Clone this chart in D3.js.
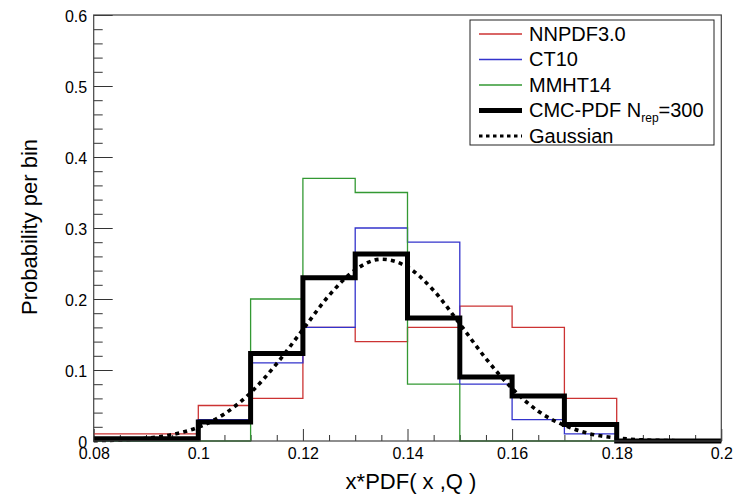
<!DOCTYPE html>
<html><head><meta charset="utf-8">
<script src="https://cdn.jsdelivr.net/npm/d3@7"></script>
<style>
html,body{margin:0;padding:0;background:#fff;}
text{font-family:"Liberation Sans",Arial,Helvetica,sans-serif;fill:#000;}
</style></head>
<body>
<svg id="chart" width="736" height="495"></svg>
<script>
// ---- data ----
const binStart = [0.08,0.09,0.10,0.11,0.12,0.13,0.14,0.15,0.16,0.17,0.18,0.19];
const binEnd = 0.20;
const nnpdf = [0.01,0.01,0.05,0.06,0.16,0.14,0.16,0.19,0.16,0.06,0,0];
const ct10  = [0,0,0.03,0.11,0.16,0.30,0.28,0.08,0.03,0.01,0,0];
const mmht  = [0,0,0,0.20,0.37,0.35,0.08,0,0,0,0,0];
const cmc   = [0.0033,0.0033,0.0267,0.1233,0.23,0.2633,0.1733,0.09,0.0633,0.0233,0,0];
const gaussX = [0.080,0.085,0.090,0.095,0.100,0.105,0.110,0.115,0.120,0.125,0.130,0.135,0.140,0.145,0.150,0.155,0.160,0.165,0.170,0.175,0.180,0.185,0.190,0.195,0.200];
const gaussY = [0.0005,0.0014,0.0037,0.009,0.0194,0.0383,0.068,0.109,0.157,0.205,0.241,0.256,0.245,0.212,0.165,0.116,0.074,0.042,0.022,0.010,0.0043,0.0016,0.0006,0.0002,0.0000];
const xTicks = [0.08,0.10,0.12,0.14,0.16,0.18,0.20];
const xTickLabels = ["0.08","0.1","0.12","0.14","0.16","0.18","0.2"];
const yTicks = [0,0.1,0.2,0.3,0.4,0.5,0.6];
const yTickLabels = ["0","0.1","0.2","0.3","0.4","0.5","0.6"];
const xMinorStep = 0.005, yMinorStep = 0.02;
const seriesNames = ["NNPDF3.0","CT10","MMHT14"];
const seriesColors = ["#cc3333","#3333cc","#339933"];
const xTitle = "x*PDF( x ,Q )";
const yTitle = "Probability per bin";

// ---- layout ----
const L = 93.7, R = 721.3, T = 15, B = 441;
const svg = d3.select("#chart");
const x = d3.scaleLinear().domain([0.08,0.20]).range([L,R]);
const y = d3.scaleLinear().domain([0,0.6]).range([B,T]);

// minor ticks
const xMinor = d3.range(0.08, 0.2000001, xMinorStep).filter(v => !xTicks.some(t => Math.abs(t-v) < 1e-9));
const yMinor = d3.range(0, 0.6000001, yMinorStep).filter(v => !yTicks.some(t => Math.abs(t-v) < 1e-9));

const fontTick = 16;
const gx = svg.append("g").attr("transform", `translate(0,${B})`)
  .call(d3.axisBottom(x).tickValues(xTicks).tickFormat((d,i)=>xTickLabels[i]).tickSize(-12).tickPadding(6.6));
gx.select(".domain").remove();
gx.selectAll("text").style("font-size", fontTick+"px").attr("font-family", null);
gx.selectAll("line").attr("stroke","#333");
const gxm = svg.append("g").attr("transform", `translate(0,${B})`)
  .call(d3.axisBottom(x).tickValues(xMinor).tickFormat("").tickSize(-6));
gxm.select(".domain").remove();
gxm.selectAll("line").attr("stroke","#333");

const gy = svg.append("g").attr("transform", `translate(${L},0)`)
  .call(d3.axisLeft(y).tickValues(yTicks).tickFormat((d,i)=>yTickLabels[i]).tickSize(-19).tickPadding(6.5));
gy.select(".domain").remove();
gy.selectAll("text").style("font-size", fontTick+"px").attr("font-family", null).attr("dy","0.42em");
gy.selectAll("line").attr("stroke","#333");
const gym = svg.append("g").attr("transform", `translate(${L},0)`)
  .call(d3.axisLeft(y).tickValues(yMinor).tickFormat("").tickSize(-9));
gym.select(".domain").remove();
gym.selectAll("line").attr("stroke","#333");

// histograms
const stepLine = d3.line().x(d=>x(d[0])).y(d=>y(d[1])).curve(d3.curveStepAfter);
function pts(vals){ const p = binStart.map((b,i)=>[b, vals[i]]); p.push([binEnd, vals[vals.length-1]]); return p; }
[nnpdf, ct10, mmht].forEach((vals,i)=>{
  svg.append("path").attr("d", stepLine(pts(vals))).attr("fill","none")
    .attr("stroke", seriesColors[i]).attr("stroke-width",1.3);
});
svg.append("path").attr("d", stepLine(pts(cmc))).attr("fill","none")
  .attr("stroke","#000").attr("stroke-width",5).attr("stroke-linejoin","miter");

// gaussian
const gLine = d3.line().x((d,i)=>x(gaussX[i])).y(d=>y(d)).curve(d3.curveMonotoneX);
svg.append("path").attr("d", gLine(gaussY)).attr("fill","none")
  .attr("stroke","#000").attr("stroke-width",3.6).attr("stroke-dasharray","4 4.2");

// frame
svg.append("rect").attr("x",L).attr("y",T).attr("width",R-L).attr("height",B-T)
  .attr("fill","none").attr("stroke","#444").attr("stroke-width",1.2);

// axis titles
svg.append("text").attr("x",411).attr("y",489).attr("text-anchor","middle")
  .style("font-size","22px").text(xTitle);
svg.append("text").attr("transform","translate(37,227) rotate(-90)").attr("text-anchor","middle")
  .style("font-size","22px").text(yTitle);

// legend
const lg = svg.append("g");
lg.append("rect").attr("x",470).attr("y",20).attr("width",244).attr("height",125)
  .attr("fill","#fff").attr("stroke","#222").attr("stroke-width",1);
const base0 = 40.5, dyL = 25.5, lx0 = 479, lx1 = 522, tx = 529;
const entries = [
  {stroke:seriesColors[0], w:1.3, dash:null},
  {stroke:seriesColors[1], w:1.3, dash:null},
  {stroke:seriesColors[2], w:1.3, dash:null},
  {stroke:"#000", w:5, dash:null},
  {stroke:"#000", w:3.2, dash:"3.5 3.5"}
];
entries.forEach((e,i)=>{
  const by = base0 + i*dyL;
  lg.append("line").attr("x1",lx0).attr("x2",lx1).attr("y1",by-6.5).attr("y2",by-6.5)
    .attr("stroke",e.stroke).attr("stroke-width",e.w).attr("stroke-dasharray",e.dash);
});
seriesNames.forEach((n,i)=>{
  lg.append("text").attr("x",tx).attr("y",base0+i*dyL).style("font-size","20px").text(n);
});
const t4 = lg.append("text").attr("x",tx).attr("y",base0+3*dyL).style("font-size","20px");
t4.append("tspan").text("CMC-PDF N");
t4.append("tspan").attr("dy",5).style("font-size","12px").text("rep");
t4.append("tspan").attr("dy",-5).text("=300");
lg.append("text").attr("x",tx).attr("y",base0+4*dyL).style("font-size","20px").text("Gaussian");
</script>
</body></html>
